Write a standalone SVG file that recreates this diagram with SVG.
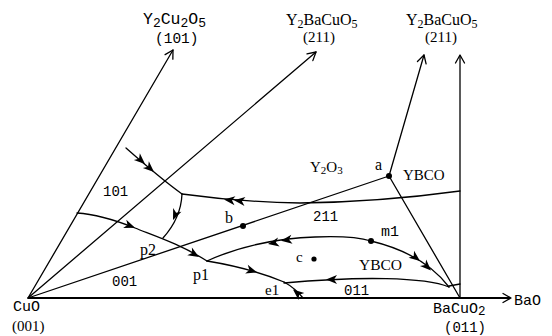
<svg xmlns="http://www.w3.org/2000/svg" width="552" height="336" viewBox="0 0 552 336">
<defs>
<style>
.ln{fill:none;stroke:#000;stroke-width:1.3;stroke-linecap:round;stroke-linejoin:round}
.base{fill:none;stroke:#000;stroke-width:2}
.open{fill:none;stroke:#000;stroke-width:1.3;stroke-linecap:round;stroke-linejoin:round}
.mono{font-family:"Liberation Mono","DejaVu Sans Mono",monospace;fill:#000}
.serif{font-family:"Liberation Serif","DejaVu Serif",serif;fill:#000}
.dot{fill:#000}
</style>
<path id="ah" d="M0,0 L-11,-4.5 L-8,0 L-11,4.5 Z" fill="#000"/>
<path id="oh" d="M-8,-4.5 L0,0 L-8,4.5" class="open"/>
</defs>
<rect width="552" height="336" fill="#fff"/>

<g id="axes">
<line class="base" x1="28" y1="298" x2="510" y2="298"/>
<use href="#oh" transform="translate(511,298)"/>
<line class="ln" x1="460" y1="298" x2="460" y2="56"/>
<use href="#oh" transform="translate(460,55) rotate(-90)"/>
<line class="ln" x1="28" y1="298" x2="173" y2="50"/>
<use href="#oh" transform="translate(173,50) rotate(-59.7)"/>
<line class="ln" x1="28" y1="298" x2="316" y2="52"/>
<use href="#oh" transform="translate(316,52) rotate(-40.5)"/>
<polyline class="ln" points="28,298 389,176 424,55"/>
<use href="#oh" transform="translate(424,55) rotate(-73.9)"/>
<line class="ln" x1="389" y1="176" x2="460" y2="298"/>
</g>

<g id="connectors">
<path class="ln" d="M126,148 Q160,178 182,194"/>
<path class="ln" d="M460,191 Q380,202 300,203 Q240,202 182,194"/>
<path class="ln" d="M182,194 Q181,218 163,238"/>
<path class="ln" d="M77,213 C95,214 115,220 135,228 C155,236 180,244 207,261"/>
<path class="ln" d="M207,261 Q250,268 284,282"/>
<path class="ln" d="M284,282 Q295,288 303,298"/>
<path class="ln" d="M449,287 C425,277 360,276 284,283"/>
<path class="ln" d="M207,261 C235,248 275,238 315,237 C340,236 358,237 371,241 C400,248 430,262 449,287"/>
<path class="ln" d="M449,286 L460,284"/>
<use href="#ah" transform="translate(145,164) rotate(42)"/>
<use href="#ah" transform="translate(154,172) rotate(42)"/>
<use href="#ah" transform="translate(224,199.5) rotate(186)"/>
<use href="#ah" transform="translate(234,200.3) rotate(186)"/>
<use href="#ah" transform="translate(173,220) rotate(113)"/>
<use href="#ah" transform="translate(135,227.8) rotate(21)"/>
<use href="#ah" transform="translate(199,257) rotate(31)"/>
<use href="#ah" transform="translate(257,272.3) rotate(17)"/>
<use href="#ah" transform="translate(293,289.5) rotate(220)"/>
<use href="#ah" transform="translate(326,279.5) rotate(180)"/>
<use href="#ah" transform="translate(268,243.9) rotate(170)"/>
<use href="#ah" transform="translate(281,240.7) rotate(172)"/>
<use href="#ah" transform="translate(420,261) rotate(38)"/>
<use href="#ah" transform="translate(431,270.5) rotate(44)"/>
</g>

<g id="points">
<circle class="dot" cx="389" cy="176" r="3"/>
<circle class="dot" cx="243" cy="226" r="3"/>
<circle class="dot" cx="371" cy="241" r="3"/>
<circle class="dot" cx="314" cy="259" r="2.6"/>
</g>

<g id="labels">
<g id="n-y2cu2o5">
<text class="mono" x="143" y="24" font-size="16.5">Y<tspan font-size="13" dy="2.5">2</tspan><tspan dy="-2.5">Cu</tspan><tspan font-size="13" dy="2.5">2</tspan><tspan dy="-2.5">O</tspan><tspan font-size="13" dy="2.5">5</tspan></text>
<text class="mono" x="155" y="43" font-size="14.5">(101)</text>
</g>
<g id="n-211a">
<text class="serif" x="286" y="25" font-size="16">Y<tspan font-size="12" dy="2.5">2</tspan><tspan dy="-2.5">BaCuO</tspan><tspan font-size="12" dy="2.5">5</tspan></text>
<text class="serif" x="303" y="42" font-size="15">(211)</text>
</g>
<g id="n-211b">
<text class="serif" x="406" y="25" font-size="16">Y<tspan font-size="12" dy="2.5">2</tspan><tspan dy="-2.5">BaCuO</tspan><tspan font-size="12" dy="2.5">5</tspan></text>
<text class="serif" x="425" y="42" font-size="15">(211)</text>
</g>
<g id="n-cuo">
<text class="mono" x="13" y="311" font-size="15">CuO</text>
<text class="serif" x="12" y="331" font-size="15">(001)</text>
</g>
<g id="n-bacuo2">
<text class="mono" x="433" y="313" font-size="15">BaCuO<tspan font-size="12.5" dy="2">2</tspan></text>
<text class="mono" x="444" y="332" font-size="14">(011)</text>
</g>
<text id="n-bao" class="mono" x="514" y="305" font-size="15">BaO</text>
<text class="mono" x="103" y="196" font-size="14">101</text>
<text class="mono" x="112" y="286" font-size="14">001</text>
<text class="mono" x="313" y="221" font-size="14">211</text>
<text class="mono" x="344" y="295" font-size="14">011</text>
<text class="mono" x="381" y="236" font-size="15">m1</text>
<text class="serif" x="140" y="255" font-size="16">p2</text>
<text class="serif" x="193" y="280" font-size="16">p1</text>
<text class="serif" x="225" y="223" font-size="16">b</text>
<text class="serif" x="375" y="170" font-size="16">a</text>
<text class="serif" x="310" y="172" font-size="15">Y<tspan font-size="11" dy="2">2</tspan><tspan dy="-2">O</tspan><tspan font-size="11" dy="2">3</tspan></text>
<text class="serif" x="403" y="180" font-size="15">YBCO</text>
<text class="serif" x="359" y="270" font-size="15.5">YBCO</text>
<text class="serif" x="296" y="262" font-size="15">c</text>
<text class="serif" x="265" y="295" font-size="15">e1</text>
</g>
</svg>
